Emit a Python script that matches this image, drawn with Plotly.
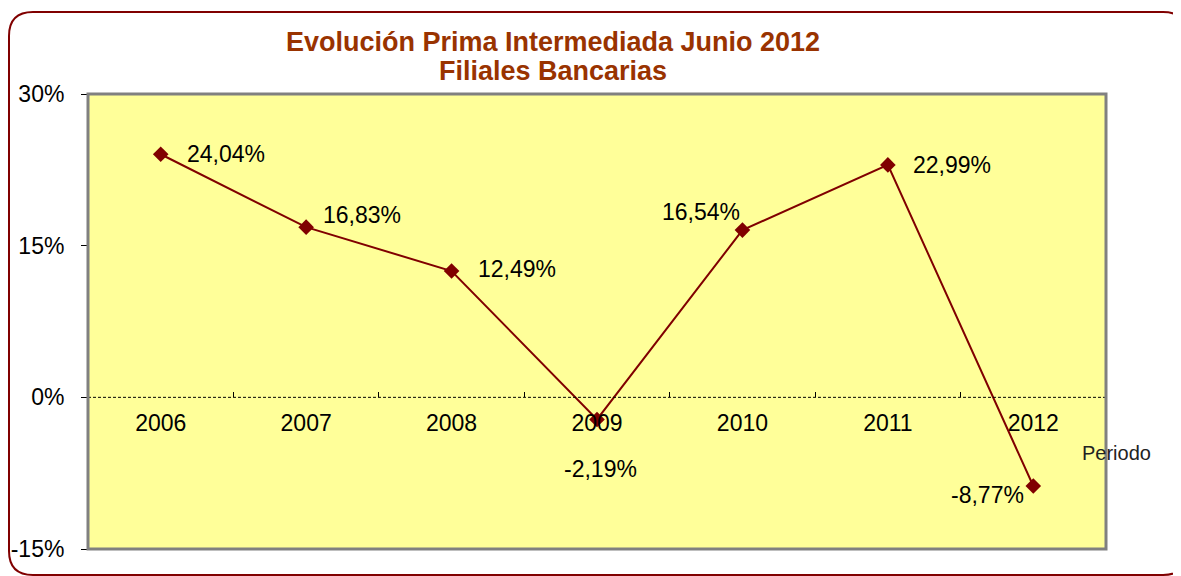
import plotly.graph_objects as go

# Data
years = ["2006", "2007", "2008", "2009", "2010", "2011", "2012"]
growth = [24.04, 16.83, 12.49, -2.19, 16.54, 22.99, -8.77]
labels = ["24,04%", "16,83%", "12,49%", "-2,19%", "16,54%", "22,99%", "-8,77%"]
y_ticks = [-15, 0, 15, 30]
y_tick_text = ["-15%", "0%", "15%", "30%"]

# label offsets in pixels (style only)
label_dx = [65, 56, 65, 3, -41, 64, -46]
label_dy = [0, 12, 2, -50, 18, 0, -9]

# the page body adds an 8px margin, so work in page pixels minus that
OFF = 8
W, H = 1181 - OFF, 576 - OFF
L, T = 88 - OFF, 94 - OFF
R = W - (1106 - OFF)
B = H - (549 - OFF)

DARK_RED = "#800000"
TITLE_RED = "#993300"
FONT = "Liberation Sans, Arial, sans-serif"


def px_to_paper(x, y):
    # page pixel coords -> paper coords
    x, y = x - OFF, y - OFF
    return (x - L) / (W - L - R), 1 - (y - T) / (H - T - B)


fig = go.Figure()

fig.add_trace(
    go.Scatter(
        x=years,
        y=growth,
        mode="lines+markers",
        line=dict(color=DARK_RED, width=2),
        marker=dict(symbol="diamond", color=DARK_RED, size=12),
        showlegend=False,
        hoverinfo="x+y",
    )
)

# data labels (category index used as x)
for i, (val, txt, dx, dy) in enumerate(zip(growth, labels, label_dx, label_dy)):
    fig.add_annotation(
        x=i, y=val, text=txt, showarrow=False,
        xshift=dx, yshift=dy,
        font=dict(family=FONT, size=23, color="#000000"),
    )

# dashed zero line
fig.add_shape(
    type="line", xref="paper", yref="y", x0=0, x1=1, y0=0, y1=0,
    line=dict(color="#000000", width=1, dash="3px,2px"),
)

# plot area border
fig.add_shape(
    type="rect", xref="paper", yref="paper", x0=0, x1=1, y0=0, y1=1,
    line=dict(color="#808080", width=3), layer="above",
)

# outer rounded frame
r = 24
x0, y0, x1, y1 = 9, 12, 1187, 575
pts = [
    (x0 + r, y0), (x1 - r, y0), (x1, y0), (x1, y0 + r), (x1, y1 - r),
    (x1, y1), (x1 - r, y1), (x0 + r, y1), (x0, y1), (x0, y1 - r),
    (x0, y0 + r), (x0, y0),
]
pp = [px_to_paper(*p) for p in pts]
path = "M {},{} L {},{} Q {},{} {},{} L {},{} Q {},{} {},{} L {},{} Q {},{} {},{} L {},{} Q {},{} {},{} Z".format(
    *pp[0], *pp[1], *pp[2], *pp[3], *pp[4], *pp[5], *pp[6], *pp[7],
    *pp[8], *pp[9], *pp[10], *pp[11], *pp[0]
)
fig.add_shape(
    type="path", xref="paper", yref="paper", path=path,
    line=dict(color=DARK_RED, width=2),
)

# axis title "Periodo"
px_, py_ = px_to_paper(1080, 453)
fig.add_annotation(
    x=px_, y=py_, xref="paper", yref="paper", xanchor="left", yanchor="middle",
    text="Periodo", showarrow=False,
    font=dict(family=FONT, size=20, color="#222222"),
)

# second title line
sx, sy = px_to_paper(553, 71)
fig.add_annotation(
    x=sx, y=sy, xref="paper", yref="paper", xanchor="center", yanchor="middle",
    text="<b>Filiales Bancarias</b>", showarrow=False,
    font=dict(family=FONT, size=27, color=TITLE_RED),
)

fig.update_layout(
    width=W,
    height=H,
    margin=dict(l=L, r=R, t=T, b=B),
    paper_bgcolor="#FFFFFF",
    plot_bgcolor="#FFFF99",
    font=dict(family=FONT, size=23, color="#000000"),
    title=dict(
        text="<b>Evolución Prima Intermediada Junio 2012</b>",
        x=(553 - OFF) / W,
        xanchor="center",
        y=1 - (42 - OFF) / H,
        yanchor="middle",
        font=dict(family=FONT, size=27, color=TITLE_RED),
    ),
    xaxis=dict(
        type="category",
        anchor="free",
        position=15 / 45,
        range=[-0.5, 6.5],
        tickson="boundaries",
        ticks="inside",
        ticklen=5,
        tickcolor="#000000",
        showline=False,
        showgrid=False,
        zeroline=False,
        automargin=False,
        ticklabelstandoff=10,
        tickfont=dict(family=FONT, size=23, color="#000000"),
    ),
    yaxis=dict(
        range=[-15, 30],
        tickvals=y_ticks,
        ticktext=y_tick_text,
        ticks="outside",
        ticklen=6,
        tickcolor="#000000",
        showgrid=False,
        zeroline=False,
        showline=False,
        automargin=False,
        ticklabelstandoff=12,
        tickfont=dict(family=FONT, size=23, color="#000000"),
    ),
)

fig.write_html("out.html")
